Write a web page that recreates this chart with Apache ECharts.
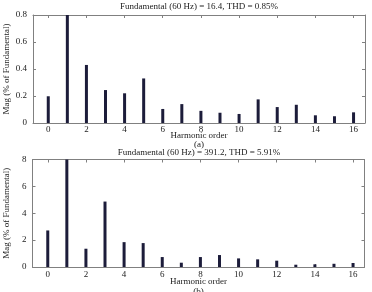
<!DOCTYPE html>
<html>
<head>
<meta charset="UTF-8">
<title>Harmonic spectrum</title>
<script src="https://cdn.jsdelivr.net/npm/echarts@6/dist/echarts.min.js"></script>
<style>
  html, body { margin: 0; padding: 0; background: #fff; }
  #main { width: 372px; height: 292px; }
</style>
</head>
<body>
<div id="main"></div>
<script>
// harmonic orders and magnitudes (% of fundamental)
var harmonics = [0, 1, 2, 3, 4, 5, 6, 7, 8, 9, 10, 11, 12, 13, 14, 15, 16];
var magA = [0.198, 100, 0.43, 0.244, 0.22, 0.33, 0.104, 0.14, 0.09, 0.076, 0.067, 0.175, 0.118, 0.135, 0.057, 0.05, 0.079];
var magB = [2.72, 100, 1.36, 4.87, 1.85, 1.78, 0.74, 0.32, 0.74, 0.89, 0.64, 0.57, 0.47, 0.17, 0.2, 0.24, 0.3];
var xTicks = [0, 2, 4, 6, 8, 10, 12, 14, 16];
var yTicksA = [0, 0.2, 0.4, 0.6, 0.8];
var yTicksB = [0, 2, 4, 6, 8];
var titleA = 'Fundamental (60 Hz) = 16.4, THD = 0.85%';
var titleB = 'Fundamental (60 Hz) = 391.2, THD = 5.91%';

var FONT = 'Liberation Serif';
var TXT = '#222';
var AX = '#808080';
var BAR = '#1c1c3a';

function pairs(ys) {
  return harmonics.map(function (h, i) { return [h, ys[i]]; });
}

function xAxisFor(gi, main, sub) {
  var base = {
    type: 'value', gridIndex: gi, min: -0.8, max: 16.6,
    axisLine: { show: true, onZero: false, lineStyle: { color: AX, width: 1 } },
    axisTick: { show: true, inside: true, length: 3, customValues: xTicks, lineStyle: { color: AX } },
    splitLine: { show: false }
  };
  if (main) {
    base.position = 'bottom';
    base.axisLabel = { show: true, customValues: xTicks, margin: gi === 0 ? 2 : 3,
      fontFamily: FONT, fontSize: 9, color: TXT };
    base.name = 'Harmonic order\n' + sub;
    base.nameLocation = 'middle';
    base.nameMoveOverlap = false;
    base.nameGap = gi === 0 ? 8.5 : 9.5;
    base.nameTextStyle = { fontFamily: FONT, fontSize: 9, color: TXT,
      lineHeight: gi === 0 ? 8.5 : 10, verticalAlign: 'top' };
  } else {
    base.position = 'top';
    base.axisLabel = { show: false };
  }
  return base;
}

function yAxisFor(gi, ticks, main) {
  var base = {
    type: 'value', gridIndex: gi, min: ticks[0], max: ticks[ticks.length - 1],
    axisLine: { show: true, onZero: false, lineStyle: { color: AX, width: 1 } },
    axisTick: { show: true, inside: true, length: 3, customValues: ticks, lineStyle: { color: AX } },
    splitLine: { show: false }
  };
  if (main) {
    base.position = 'left';
    base.axisLabel = { show: true, customValues: ticks, margin: 6,
      fontFamily: FONT, fontSize: 9, color: TXT };
    base.name = 'Mag (% of Fundamental)';
    base.nameLocation = 'middle';
    base.nameMoveOverlap = false;
    base.nameGap = 21.5;
    base.nameTextStyle = { fontFamily: FONT, fontSize: 9, color: TXT };
  } else {
    base.position = 'right';
    base.axisLabel = { show: false };
  }
  return base;
}

var chart = echarts.init(document.getElementById('main'), null, { renderer: 'canvas' });

var option = {
  animation: false,
  backgroundColor: '#fff',
  title: [
    { text: titleA, left: 199, top: 2, padding: 0, textAlign: 'center',
      textStyle: { fontFamily: FONT, fontSize: 9, fontWeight: 'normal', color: TXT } },
    { text: titleB, left: 199, top: 148, padding: 0, textAlign: 'center',
      textStyle: { fontFamily: FONT, fontSize: 9, fontWeight: 'normal', color: TXT } }
  ],
  grid: [
    { left: 33, right: 7, top: 15, height: 108, outerBoundsMode: 'none' },
    { left: 32.5, right: 7.5, top: 159.5, height: 107.5, outerBoundsMode: 'none' }
  ],
  xAxis: [
    xAxisFor(0, true, '(a)'), xAxisFor(0, false),
    xAxisFor(1, true, '(b)'), xAxisFor(1, false)
  ],
  yAxis: [
    yAxisFor(0, yTicksA, true), yAxisFor(0, yTicksA, false),
    yAxisFor(1, yTicksB, true), yAxisFor(1, yTicksB, false)
  ],
  series: [
    { type: 'bar', xAxisIndex: 0, yAxisIndex: 0, barWidth: 3, clip: true,
      itemStyle: { color: BAR }, data: pairs(magA) },
    { type: 'bar', xAxisIndex: 2, yAxisIndex: 2, barWidth: 3, clip: true,
      itemStyle: { color: BAR }, data: pairs(magB) }
  ]
};

chart.setOption(option);
</script>
</body>
</html>
